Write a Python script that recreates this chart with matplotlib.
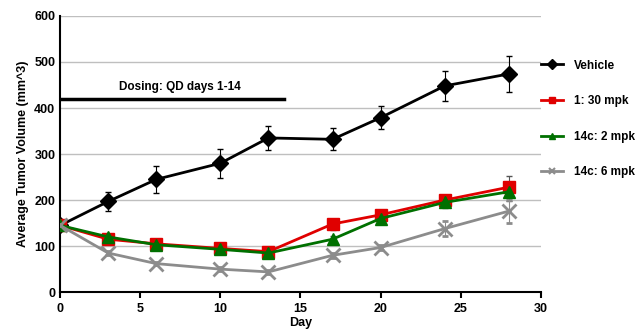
import numpy as np
import matplotlib.pyplot as plt
from matplotlib.lines import Line2D

plt.rcParams['font.family'] = ['Liberation Sans', 'DejaVu Sans']
plt.rcParams['font.weight'] = 'bold'

days = [0, 3, 6, 10, 13, 17, 20, 24, 28]

vehicle = [145, 197, 245, 280, 335, 332, 379, 448, 474]
vehicle_err = [5, 20, 30, 32, 27, 24, 25, 32, 40]
cpd1 = [145, 115, 105, 95, 88, 148, 168, 200, 228]
cpd1_err = [4, 5, 5, 4, 5, 12, 8, 12, 24]
c14_2 = [145, 120, 103, 93, 85, 115, 160, 195, 218]
c14_2_err = [4, 5, 5, 4, 5, 8, 8, 12, 20]
c14_6 = [145, 85, 62, 50, 44, 80, 97, 138, 176]
c14_6_err = [4, 5, 4, 4, 4, 6, 6, 17, 25]

series = [
    ('Vehicle', vehicle, vehicle_err, 'black', 'D', 8),
    ('1: 30 mpk', cpd1, cpd1_err, '#e00000', 's', 9),
    ('14c: 2 mpk', c14_2, c14_2_err, '#007000', '^', 9),
    ('14c: 6 mpk', c14_6, c14_6_err, '#8c8c8c', 'x', 10),
]

fig = plt.figure(figsize=(6.4, 3.32), dpi=100)
ax = fig.add_axes([0.094, 0.12, 0.751, 0.832])

for i in range(0, 601, 100):
    ax.axhline(i, color='#bfbfbf', lw=1, zorder=0)

handles = []
for name, vals, err, col, mk, ms in series:
    ecol = 'black' if col == 'black' else col
    if col in ('#e00000', '#007000'):
        ecol = '#555555'
    ax.errorbar(days, vals, yerr=err, color=col, ecolor=ecol, elinewidth=0.8,
                capsize=2.5, capthick=0.8, lw=2, marker=mk, ms=ms,
                mew=2 if mk == 'x' else 1, zorder=3)
    handles.append(Line2D([0], [0], color=col, lw=2, marker=mk, ms=5,
                          mew=1.5 if mk == 'x' else 1))

# dosing period
ax.plot([0, 14], [420, 420], color='black', lw=2.5, zorder=2)
ax.text(7.5, 432, 'Dosing: QD days 1-14', ha='center', va='bottom',
        fontsize=8.5, fontweight='bold')

ax.set_xlim(0, 30)
ax.set_ylim(0, 600)
ax.set_xticks(range(0, 31, 5))
ax.set_yticks(range(0, 601, 100))
ax.tick_params(labelsize=9, direction='out', length=4, width=1.5)
ax.tick_params(axis='y', length=0)
ax.spines['top'].set_visible(False)
ax.spines['right'].set_visible(False)
ax.spines['left'].set_linewidth(1.5)
ax.spines['bottom'].set_linewidth(1.5)
ax.set_xlabel('Day', fontsize=9, fontweight='bold', labelpad=2)
ax.set_ylabel('Average Tumor Volume (mm^3)', fontsize=9, fontweight='bold')

fig.legend(handles, [s[0] for s in series], loc='upper left',
           bbox_to_anchor=(0.838, 0.835), frameon=False, fontsize=8.5,
           labelspacing=2.0, handlelength=1.9, handletextpad=0.9,
           borderaxespad=0)

fig.savefig('out.png', dpi=100)
